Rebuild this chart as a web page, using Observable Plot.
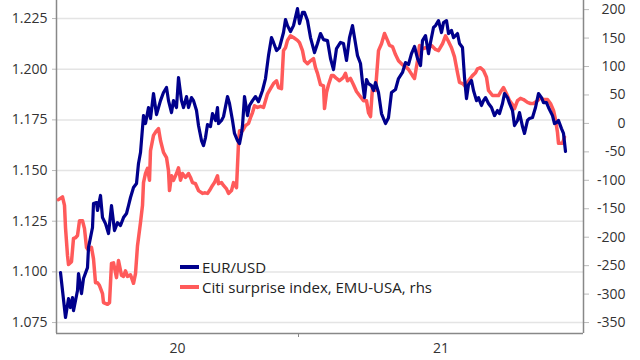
<!DOCTYPE html>
<html><head><meta charset="utf-8">
<script src="https://cdn.jsdelivr.net/npm/d3@7"></script>
<script src="https://cdn.jsdelivr.net/npm/@observablehq/plot@0.6"></script>
<style>
body{margin:0;background:#fff;font-family:"Open Sans",sans-serif;}
#wrap{position:relative;width:640px;height:360px;overflow:hidden;}
.row{position:absolute;left:180px;height:20px;display:flex;align-items:center;font-size:15px;color:#222;white-space:nowrap;}
.sw{display:inline-block;width:19px;height:4px;margin-right:3px;}
</style></head><body><div id="wrap"></div>
<script>
// EUR/USD (left axis)
const eurDates = ["2020-05-08","2020-05-13","2020-05-16","2020-05-18","2020-05-20","2020-05-21","2020-05-25","2020-05-26","2020-05-29","2020-05-31",
"2020-06-04","2020-06-05","2020-06-09","2020-06-10","2020-06-13","2020-06-14","2020-06-17","2020-06-19","2020-06-22","2020-06-25","2020-06-28",
"2020-07-01","2020-07-04","2020-07-07","2020-07-10","2020-07-13","2020-07-15","2020-07-17","2020-07-20","2020-07-23","2020-07-25","2020-07-27","2020-07-30",
"2020-08-01","2020-08-04","2020-08-06","2020-08-09","2020-08-12","2020-08-16","2020-08-19","2020-08-22","2020-08-24","2020-08-27","2020-08-29",
"2020-09-01","2020-09-03","2020-09-06","2020-09-08","2020-09-11","2020-09-13","2020-09-16","2020-09-18","2020-09-21","2020-09-23","2020-09-26","2020-09-28","2020-09-30",
"2020-10-02","2020-10-05","2020-10-07","2020-10-10","2020-10-12","2020-10-13","2020-10-16","2020-10-18","2020-10-22","2020-10-24","2020-10-27","2020-10-29",
"2020-11-01","2020-11-03","2020-11-05","2020-11-06","2020-11-08","2020-11-11","2020-11-13","2020-11-16","2020-11-19","2020-11-22","2020-11-26","2020-11-29",
"2020-12-02","2020-12-05","2020-12-07","2020-12-10","2020-12-13","2020-12-17","2020-12-19","2020-12-21","2020-12-24","2020-12-27","2020-12-31",
"2021-01-02","2021-01-05","2021-01-07","2021-01-10","2021-01-13","2021-01-17","2021-01-20","2021-01-23","2021-01-26","2021-01-30",
"2021-02-02","2021-02-05","2021-02-08","2021-02-12","2021-02-15","2021-02-18","2021-02-21","2021-02-24","2021-02-27",
"2021-03-01","2021-03-04","2021-03-06","2021-03-08","2021-03-10","2021-03-12","2021-03-15","2021-03-17","2021-03-19","2021-03-22","2021-03-25","2021-03-29",
"2021-04-01","2021-04-04","2021-04-08","2021-04-11","2021-04-15","2021-04-18","2021-04-21","2021-04-24","2021-04-27","2021-04-30",
"2021-05-03","2021-05-05","2021-05-08","2021-05-11","2021-05-13","2021-05-16","2021-05-18","2021-05-21","2021-05-24","2021-05-26","2021-05-29","2021-05-31",
"2021-06-03","2021-06-05","2021-06-09","2021-06-11","2021-06-14","2021-06-16","2021-06-18","2021-06-20","2021-06-23","2021-06-25","2021-06-28","2021-06-30",
"2021-07-03","2021-07-05","2021-07-07","2021-07-10","2021-07-13","2021-07-16","2021-07-19","2021-07-21","2021-07-24","2021-07-26","2021-07-29","2021-07-31",
"2021-08-03","2021-08-05","2021-08-08","2021-08-10","2021-08-13","2021-08-15","2021-08-18","2021-08-20","2021-08-23","2021-08-26","2021-08-29",
"2021-09-01","2021-09-03","2021-09-06","2021-09-08","2021-09-12","2021-09-14","2021-09-16","2021-09-18","2021-09-21","2021-09-23","2021-09-25"];
const eurValues = [1.0997,1.0775,1.0868,1.0824,1.0873,1.0809,1.0908,1.0992,1.0893,1.0967,
1.1021,1.1120,1.1219,1.1337,1.1342,1.1303,1.1377,1.1268,1.1238,1.1189,1.1327,
1.1204,1.1243,1.1229,1.1268,1.1288,1.1327,1.1367,1.1416,1.1436,1.1535,1.1589,1.1771,
1.1732,1.1811,1.1757,1.1880,1.1776,1.1845,1.1885,1.1910,1.1845,1.1786,1.1845,
1.1811,1.1959,1.1845,1.1811,1.1865,1.1811,1.1860,1.1845,1.1796,1.1722,1.1648,1.1623,1.1663,
1.1727,1.1717,1.1781,1.1747,1.1811,1.1732,1.1747,1.1766,1.1865,1.1831,1.1747,1.1683,
1.1648,1.1633,1.1683,1.1722,1.1865,1.1771,1.1821,1.1845,1.1865,1.1840,1.1895,1.1954,
1.2067,1.2156,1.2132,1.2092,1.2107,1.2181,1.2245,1.2215,1.2186,1.2215,1.2299,
1.2225,1.2280,1.2280,1.2240,1.2156,1.2082,1.2127,1.2176,1.2146,1.2141,
1.2053,1.1998,1.2102,1.2132,1.2127,1.2043,1.2156,1.2215,1.2127,
1.2067,1.2028,1.1934,1.1860,1.1949,1.1929,1.1919,1.1895,1.1934,1.1885,1.1781,1.1732,
1.1761,1.1885,1.1900,1.1954,1.1984,1.2033,1.2023,1.2077,1.2112,1.2053,
1.2018,1.2141,1.2166,1.2077,1.2132,1.2206,1.2215,1.2240,1.2181,1.2230,1.2240,1.2176,
1.2191,1.2156,1.2176,1.2127,1.2107,1.1959,1.1855,1.1924,1.1944,1.1895,1.1845,1.1860,
1.1821,1.1845,1.1860,1.1831,1.1811,1.1771,1.1796,1.1781,1.1831,1.1880,1.1860,1.1831,
1.1796,1.1722,1.1747,1.1786,1.1717,1.1683,1.1747,1.1757,1.1762,1.1811,1.1880,
1.1860,1.1835,1.1835,1.1811,1.1771,1.1732,1.1737,1.1747,1.1707,1.1683,1.1594];

// Citi surprise index, EMU-USA (right axis)
const citiDates = ["2020-05-06","2020-05-10","2020-05-12","2020-05-13","2020-05-15","2020-05-16","2020-05-19","2020-05-21","2020-05-23","2020-05-25","2020-05-27","2020-05-30",
"2020-06-01","2020-06-03","2020-06-05","2020-06-08","2020-06-10","2020-06-12","2020-06-14","2020-06-16","2020-06-19","2020-06-20","2020-06-24","2020-06-26","2020-06-28","2020-06-30",
"2020-07-03","2020-07-05","2020-07-08","2020-07-10","2020-07-12","2020-07-14","2020-07-17","2020-07-20","2020-07-22","2020-07-24","2020-07-27","2020-07-29","2020-07-30",
"2020-08-01","2020-08-03","2020-08-05","2020-08-06","2020-08-09","2020-08-12","2020-08-14","2020-08-16","2020-08-19","2020-08-22","2020-08-24","2020-08-25","2020-08-27","2020-08-29",
"2020-09-01","2020-09-03","2020-09-05","2020-09-07","2020-09-10","2020-09-13","2020-09-15","2020-09-17","2020-09-20","2020-09-23","2020-09-27","2020-09-29",
"2020-10-02","2020-10-04","2020-10-07","2020-10-09","2020-10-12","2020-10-13","2020-10-16","2020-10-18","2020-10-21","2020-10-23","2020-10-26","2020-10-28","2020-10-31",
"2020-11-02","2020-11-03","2020-11-06","2020-11-09","2020-11-12","2020-11-14","2020-11-16","2020-11-18","2020-11-21","2020-11-24","2020-11-27",
"2020-12-01","2020-12-04","2020-12-07","2020-12-10","2020-12-12","2020-12-15","2020-12-17","2020-12-19","2020-12-21","2020-12-24","2020-12-27","2020-12-31",
"2021-01-02","2021-01-05","2021-01-07","2021-01-10","2021-01-13","2021-01-16","2021-01-18","2021-01-20","2021-01-23","2021-01-26","2021-01-27","2021-01-29","2021-01-31",
"2021-02-03","2021-02-05","2021-02-08","2021-02-11","2021-02-15","2021-02-17","2021-02-19","2021-02-22","2021-02-25","2021-02-28",
"2021-03-03","2021-03-07","2021-03-10","2021-03-12","2021-03-14","2021-03-16","2021-03-19","2021-03-22","2021-03-25","2021-03-28","2021-03-31",
"2021-04-02","2021-04-05","2021-04-08","2021-04-11","2021-04-15","2021-04-18","2021-04-21","2021-04-25","2021-04-27","2021-04-30",
"2021-05-02","2021-05-05","2021-05-08","2021-05-11","2021-05-14","2021-05-18","2021-05-21","2021-05-25","2021-05-28","2021-05-31",
"2021-06-03","2021-06-06","2021-06-09","2021-06-11","2021-06-14","2021-06-17","2021-06-20","2021-06-24","2021-06-27","2021-06-29",
"2021-07-02","2021-07-05","2021-07-08","2021-07-10","2021-07-14","2021-07-17","2021-07-20","2021-07-23","2021-07-25","2021-07-28","2021-07-31",
"2021-08-03","2021-08-05","2021-08-08","2021-08-11","2021-08-14","2021-08-18","2021-08-21","2021-08-24","2021-08-28","2021-08-31",
"2021-09-03","2021-09-07","2021-09-10","2021-09-13","2021-09-15","2021-09-17","2021-09-18","2021-09-22","2021-09-24"];
const citiValues = [-134,-129,-144,-183,-232,-248,-243,-202,-201,-197,-171,-171,
-185,-218,-223,-218,-238,-280,-280,-285,-299,-315,-318,-315,-246,-245,
-271,-241,-267,-269,-259,-269,-266,-281,-264,-215,-174,-144,-104,
-88,-79,-100,-48,-21,-13,-9,-30,-51,-60,-83,-118,-92,-100,
-88,-78,-100,-88,-95,-88,-95,-104,-106,-118,-123,-122,
-123,-118,-109,-104,-92,-106,-104,-109,-115,-123,-118,-104,-113,
-35,-13,-13,-4,0,10,19,31,28,30,28,
52,61,70,75,63,61,128,133,146,154,151,146,
142,128,110,105,110,114,98,88,68,66,26,54,68,
84,84,79,75,81,88,75,79,68,56,
49,40,40,19,12,63,58,128,140,158,146,
137,135,121,110,103,100,95,84,79,110,
137,131,133,133,137,130,128,140,154,144,
133,117,89,72,70,65,75,84,89,96,
98,93,81,58,49,49,49,58,63,52,40,
33,26,40,44,42,37,35,35,40,45,
42,42,35,23,7,-16,-35,-35,-24];

const leftTicks = [1.075, 1.100, 1.125, 1.150, 1.175, 1.200, 1.225];
const rightTicks = [-350, -300, -250, -200, -150, -100, -50, 0, 50, 100, 150, 200];
const seriesNames = ["EUR/USD", "Citi surprise index, EMU-USA, rhs"];
const seriesColors = ["#00008c", "#ff5a5a"];

const xDomain = [new Date("2020-05-04"), new Date("2021-10-13")];
const yDomain = [1.0696, 1.2339];
const yearBreak = new Date("2021-01-01");
// right axis aligned so that -350 ↔ 1.075 and 200 ↔ 1.2294
const toLeft = d3.scaleLinear().domain([-350, 200]).range([1.075, 1.2294]);

const eur = eurDates.map((d, i) => ({date: new Date(d), value: eurValues[i]}));
const citi = citiDates.map((d, i) => ({date: new Date(d), value: citiValues[i]}));
const labelPos = [new Date((+xDomain[0] + +yearBreak) / 2), new Date((+yearBreak + +xDomain[1]) / 2)];

const chart = Plot.plot({
  width: 640, height: 360,
  marginLeft: 56, marginRight: 57, marginTop: 0, marginBottom: 27,
  style: {fontFamily: "'Open Sans', sans-serif", fontSize: "14px", color: "#333", background: "#fff"},
  x: {type: "utc", domain: xDomain, label: null},
  y: {domain: yDomain, label: null},
  marks: [
    Plot.gridY(leftTicks, {stroke: "#e4e4e4", strokeOpacity: 1, strokeWidth: 1.5}),
    Plot.axisY(leftTicks, {anchor: "left", label: null, tickFormat: d3.format(".3f"), tickSize: 4, tickPadding: 5, stroke: "#bbb"}),
    Plot.axisY(rightTicks.map(v => toLeft(v)), {anchor: "right", label: null, tickFormat: v => String(Math.round(toLeft.invert(v))), tickSize: 5, tickPadding: 37, textAnchor: "end", stroke: "#bbb"}),
    Plot.axisX([yearBreak], {label: null, tickFormat: () => "", tickSize: 4, stroke: "#888"}),
    Plot.axisX(labelPos, {label: null, tickSize: 0, tickPadding: 10, tickFormat: d3.utcFormat("%y")}),
    Plot.ruleX(xDomain, {stroke: "#888", strokeWidth: 1.5}),
    Plot.ruleY([yDomain[0]], {stroke: "#888", strokeWidth: 1.5}),
    Plot.line(citi, {x: "date", y: d => toLeft(d.value), stroke: seriesColors[1], strokeWidth: 3.5}),
    Plot.line(eur, {x: "date", y: "value", stroke: seriesColors[0], strokeWidth: 3.2})
  ]
});
const wrap = document.getElementById("wrap");
wrap.appendChild(chart);
seriesNames.forEach((name, i) => {
  const row = document.createElement("div");
  row.className = "row";
  row.style.top = (257 + i * 20) + "px";
  row.innerHTML = `<span class="sw" style="background:${seriesColors[i]}"></span><span>${name}</span>`;
  wrap.appendChild(row);
});
</script></body></html>
